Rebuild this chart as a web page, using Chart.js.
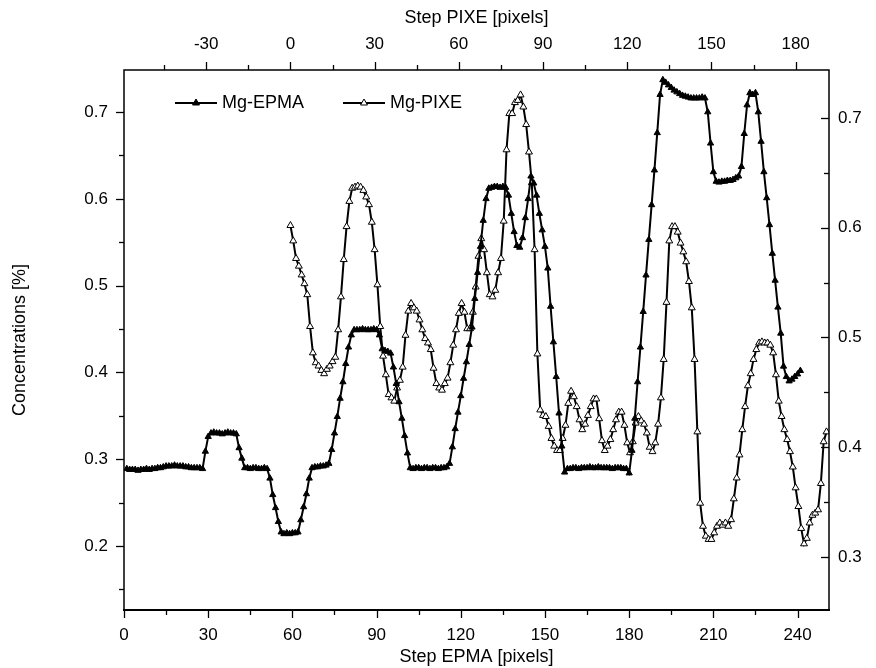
<!DOCTYPE html>
<html>
<head>
<meta charset="utf-8">
<script src="https://cdn.jsdelivr.net/npm/chart.js@4.4.0/dist/chart.umd.min.js"></script>
<style>
  html, body { margin: 0; padding: 0; background: #fff; }
</style>
</head>
<body>
<canvas id="chart" width="876" height="668"></canvas>
<script>
// Mg-EPMA profile, one value per EPMA step, starting at step 1
const epmaFirstStep = 1;
const epmaValues = [
  0.289, 0.288, 0.288, 0.288, 0.287, 0.288, 0.288, 0.289, 0.288, 0.289, // 1-10
  0.289, 0.290, 0.290, 0.291, 0.292, 0.292, 0.292, 0.293, 0.292, 0.292, // 11-20
  0.292, 0.291, 0.291, 0.290, 0.290, 0.290, 0.290, 0.289, 0.309, 0.326, // 21-30
  0.330, 0.331, 0.330, 0.330, 0.329, 0.330, 0.331, 0.330, 0.330, 0.329, // 31-40
  0.313, 0.301, 0.290, 0.290, 0.289, 0.290, 0.290, 0.289, 0.289, 0.290, // 41-50
  0.289, 0.278, 0.259, 0.244, 0.228, 0.216, 0.214, 0.215, 0.214, 0.215, // 51-60
  0.215, 0.216, 0.230, 0.245, 0.260, 0.278, 0.290, 0.291, 0.291, 0.292, // 61-70
  0.292, 0.293, 0.295, 0.311, 0.330, 0.349, 0.370, 0.389, 0.410, 0.429, // 71-80
  0.443, 0.449, 0.449, 0.449, 0.450, 0.449, 0.449, 0.449, 0.450, 0.449, // 81-90
  0.443, 0.427, 0.425, 0.424, 0.422, 0.406, 0.387, 0.366, 0.347, 0.327, // 91-100
  0.307, 0.290, 0.289, 0.290, 0.290, 0.289, 0.290, 0.290, 0.289, 0.290, // 101-110
  0.290, 0.289, 0.290, 0.290, 0.291, 0.295, 0.314, 0.335, 0.354, 0.373, // 111-120
  0.393, 0.412, 0.432, 0.452, 0.485, 0.515, 0.545, 0.575, 0.600, 0.612, // 121-130
  0.613, 0.614, 0.614, 0.613, 0.614, 0.613, 0.604, 0.583, 0.562, 0.546, // 131-140
  0.544, 0.555, 0.578, 0.600, 0.626, 0.618, 0.604, 0.583, 0.564, 0.545, // 141-150
  0.520, 0.476, 0.435, 0.395, 0.353, 0.315, 0.285, 0.289, 0.289, 0.290, // 151-160
  0.290, 0.289, 0.290, 0.290, 0.290, 0.291, 0.290, 0.290, 0.291, 0.290, // 161-170
  0.290, 0.290, 0.290, 0.289, 0.290, 0.290, 0.290, 0.289, 0.289, 0.284, // 171-180
  0.310, 0.347, 0.389, 0.429, 0.470, 0.512, 0.553, 0.593, 0.633, 0.676, // 181-190
  0.720, 0.737, 0.734, 0.731, 0.728, 0.725, 0.723, 0.721, 0.719, 0.718, // 191-200
  0.717, 0.716, 0.716, 0.716, 0.716, 0.717, 0.716, 0.700, 0.664, 0.631, // 201-210
  0.620, 0.619, 0.620, 0.620, 0.621, 0.621, 0.622, 0.624, 0.626, 0.637, // 211-220
  0.675, 0.708, 0.722, 0.720, 0.722, 0.700, 0.666, 0.631, 0.601, 0.570, // 221-230
  0.537, 0.506, 0.475, 0.445, 0.407, 0.395, 0.390, 0.392, 0.395, 0.398, // 231-240
  0.402                                                                 // 241
];

// Mg-PIXE profile, one value per PIXE step, starting at step 0
const pixeFirstStep = 0;
const pixeValues = [
  0.602, 0.588, 0.572, 0.565, 0.557, 0.549, 0.539, 0.510, 0.486, 0.477, // 0-9
  0.474, 0.470, 0.467, 0.471, 0.474, 0.478, 0.482, 0.507, 0.537, 0.571, // 10-19
  0.601, 0.624, 0.636, 0.637, 0.638, 0.637, 0.634, 0.628, 0.621, 0.605, // 20-29
  0.580, 0.548, 0.510, 0.483, 0.466, 0.448, 0.445, 0.442, 0.454, 0.461, // 30-39
  0.473, 0.502, 0.524, 0.531, 0.527, 0.524, 0.516, 0.507, 0.499, 0.495, // 40-49
  0.489, 0.472, 0.458, 0.454, 0.452, 0.458, 0.463, 0.477, 0.493, 0.507, // 50-59
  0.522, 0.531, 0.523, 0.508, 0.508, 0.523, 0.546, 0.574, 0.590, 0.580, // 60-69
  0.559, 0.539, 0.537, 0.543, 0.559, 0.572, 0.606, 0.671, 0.704, 0.704, // 70-79
  0.714, 0.716, 0.721, 0.710, 0.694, 0.669, 0.641, 0.580, 0.485, 0.434, // 80-89
  0.429, 0.428, 0.419, 0.408, 0.401, 0.397, 0.397, 0.408, 0.420, 0.440, // 90-99
  0.451, 0.446, 0.437, 0.425, 0.416, 0.421, 0.429, 0.437, 0.444, 0.444, // 100-109
  0.426, 0.406, 0.397, 0.401, 0.407, 0.416, 0.425, 0.432, 0.432, 0.420, // 110-119
  0.404, 0.395, 0.405, 0.422, 0.428, 0.424, 0.421, 0.413, 0.400, 0.396, // 120-129
  0.404, 0.421, 0.445, 0.480, 0.532, 0.588, 0.601, 0.601, 0.596, 0.586, // 130-139
  0.578, 0.569, 0.551, 0.527, 0.480, 0.414, 0.349, 0.328, 0.319, 0.316, // 140-149
  0.316, 0.322, 0.328, 0.331, 0.329, 0.331, 0.328, 0.334, 0.353, 0.372, // 150-159
  0.393, 0.416, 0.437, 0.456, 0.467, 0.480, 0.489, 0.495, 0.496, 0.495, // 160-169
  0.495, 0.493, 0.486, 0.466, 0.442, 0.428, 0.416, 0.407, 0.396, 0.382, // 170-179
  0.363, 0.346, 0.326, 0.312, 0.317, 0.331, 0.338, 0.340, 0.343, 0.367, // 180-189
  0.405, 0.414                                                          // 190-191
];

// axis ticks
const epmaTicks = [0, 30, 60, 90, 120, 150, 180, 210, 240];
const pixeTicks = [-30, 0, 30, 60, 90, 120, 150, 180];
const leftTicks = [0.2, 0.3, 0.4, 0.5, 0.6, 0.7];
const rightTicks = [0.3, 0.4, 0.5, 0.6, 0.7];

// axis ranges (PIXE step 0 sits at EPMA step 59.3)
const epmaRange = [0, 251.2];
const pixeShift = 59.3;
const leftRange = [0.1263, 0.7484];
const rightRange = [0.2517, 0.7437];

const W = 876, H = 668;
const plot = { left: 124, right: 829, top: 70, bottom: 610 };
const FONT = 'Arial, "Liberation Sans", sans-serif';

const epmaData = epmaValues.map((v, i) => ({ x: epmaFirstStep + i, y: v }));
const pixeData = pixeValues.map((v, i) => ({ x: pixeFirstStep + i, y: v }));

function fixedTicks(list) {
  return scale => { scale.ticks = list.map(v => ({ value: v })); };
}

function tickFmt(v) {
  return Math.abs(v) < 1 && v !== 0 ? v.toFixed(1) : String(v);
}

// frame, major/minor tick marks
const framePlugin = {
  id: 'frame',
  afterDatasetsDraw(chart) {
    const { ctx, scales } = chart;
    const a = chart.chartArea;
    ctx.save();
    ctx.strokeStyle = '#000';
    ctx.lineWidth = 1.5;
    ctx.strokeRect(a.left, a.top, a.right - a.left, a.bottom - a.top);
    ctx.lineWidth = 2;
    ctx.beginPath();
    ctx.moveTo(a.left - 1, a.bottom);
    ctx.lineTo(a.right + 1, a.bottom);
    ctx.stroke();

    ctx.lineWidth = 1.3;
    const major = 8, minor = 5;
    function marks(scale, list, step) {
      const all = [];
      list.forEach(v => all.push([v, major]));
      list.forEach(v => all.push([v + step / 2, minor]));
      all.push([list[0] - step / 2, minor]);
      return all.filter(([v]) => v >= scale.min && v <= scale.max);
    }
    function hTicks(scale, list, step, y, dir) {
      marks(scale, list, step).forEach(([v, len]) => {
        const x = Math.round(scale.getPixelForValue(v)) + 0.5;
        ctx.beginPath();
        ctx.moveTo(x, y);
        ctx.lineTo(x, y + dir * len);
        ctx.stroke();
      });
    }
    function vTicks(scale, list, step, x, dir) {
      marks(scale, list, step).forEach(([v, len]) => {
        const y = Math.round(scale.getPixelForValue(v)) + 0.5;
        ctx.beginPath();
        ctx.moveTo(x, y);
        ctx.lineTo(x + dir * len, y);
        ctx.stroke();
      });
    }
    hTicks(scales.x, epmaTicks, 30, a.bottom, 1);
    hTicks(scales.x2, pixeTicks, 30, a.top, -1);
    vTicks(scales.y, leftTicks, 0.1, a.left, -1);
    vTicks(scales.y2, rightTicks, 0.1, a.right, -1);
    ctx.restore();
  }
};

// legend: line with marker in the middle, then the label
const legendEntries = [
  { label: 'Mg-EPMA', x: 175, filled: true },
  { label: 'Mg-PIXE', x: 343, filled: false }
];
const legendPlugin = {
  id: 'mgLegend',
  afterDraw(chart) {
    const ctx = chart.ctx;
    const y = 103, len = 42, r = 4;
    ctx.save();
    legendEntries.forEach(e => {
      ctx.strokeStyle = '#000';
      ctx.lineWidth = 2;
      ctx.beginPath();
      ctx.moveTo(e.x, y);
      ctx.lineTo(e.x + len, y);
      ctx.stroke();
      const cx = e.x + len / 2;
      ctx.beginPath();
      ctx.moveTo(cx, y - r);
      ctx.lineTo(cx + r * 0.866, y + r / 2);
      ctx.lineTo(cx - r * 0.866, y + r / 2);
      ctx.closePath();
      ctx.fillStyle = e.filled ? '#000' : '#fff';
      ctx.fill();
      ctx.lineWidth = 1;
      ctx.stroke();
      ctx.fillStyle = '#000';
      ctx.font = '18px ' + FONT;
      ctx.textBaseline = 'middle';
      ctx.textAlign = 'left';
      ctx.fillText(e.label, e.x + len + 5, y);
    });
    ctx.restore();
  }
};

const tickFont = { family: FONT, size: 17 };
const titleFont = { family: FONT, size: 18 };

new Chart(document.getElementById('chart'), {
  type: 'line',
  data: {
    datasets: [
      {
        label: 'Mg-EPMA',
        data: epmaData,
        xAxisID: 'x',
        yAxisID: 'y',
        borderColor: '#000',
        borderWidth: 2,
        pointStyle: 'triangle',
        pointRadius: 3.6,
        pointBackgroundColor: '#000',
        pointBorderColor: '#000',
        pointBorderWidth: 1,
        tension: 0,
        order: 0
      },
      {
        label: 'Mg-PIXE',
        data: pixeData,
        xAxisID: 'x2',
        yAxisID: 'y2',
        borderColor: '#000',
        borderWidth: 2,
        pointStyle: 'triangle',
        pointRadius: 4,
        pointBackgroundColor: '#fff',
        pointBorderColor: '#000',
        pointBorderWidth: 1,
        tension: 0,
        order: 1
      }
    ]
  },
  options: {
    responsive: false,
    animation: false,
    layout: { padding: 0 },
    plugins: { legend: { display: false }, tooltip: { enabled: false } },
    scales: {
      x: {
        type: 'linear', position: 'bottom',
        min: epmaRange[0], max: epmaRange[1],
        afterBuildTicks: fixedTicks(epmaTicks),
        afterFit: s => { s.height = H - plot.bottom; },
        grid: { display: false, drawTicks: false },
        border: { display: false },
        ticks: { color: '#000', font: tickFont, padding: 15, maxRotation: 0, autoSkip: false, callback: v => tickFmt(v) },
        title: { display: true, text: 'Step EPMA [pixels]', color: '#000', font: titleFont, padding: { top: 0, bottom: 0 } }
      },
      x2: {
        type: 'linear', position: 'top',
        min: epmaRange[0] - pixeShift, max: epmaRange[1] - pixeShift,
        afterBuildTicks: fixedTicks(pixeTicks),
        afterFit: s => { s.height = plot.top; },
        grid: { display: false, drawTicks: false },
        border: { display: false },
        ticks: { color: '#000', font: tickFont, padding: 15, maxRotation: 0, autoSkip: false, callback: v => tickFmt(v) },
        title: { display: true, text: 'Step PIXE [pixels]', color: '#000', font: titleFont, padding: { top: 7, bottom: 0 } }
      },
      y: {
        type: 'linear', position: 'left',
        min: leftRange[0], max: leftRange[1],
        afterBuildTicks: fixedTicks(leftTicks),
        afterFit: s => { s.width = plot.left; },
        grid: { display: false, drawTicks: false },
        border: { display: false },
        ticks: { color: '#000', font: tickFont, padding: 16, callback: v => tickFmt(v) },
        title: { display: true, text: 'Concentrations [%]', color: '#000', font: titleFont, padding: { top: 9, bottom: 0 } }
      },
      y2: {
        type: 'linear', position: 'right',
        min: rightRange[0], max: rightRange[1],
        afterBuildTicks: fixedTicks(rightTicks),
        afterFit: s => { s.width = W - plot.right; },
        grid: { display: false, drawTicks: false },
        border: { display: false },
        ticks: { color: '#000', font: tickFont, padding: 9, callback: v => tickFmt(v) }
      }
    }
  },
  plugins: [framePlugin, legendPlugin]
});
</script>
</body>
</html>
